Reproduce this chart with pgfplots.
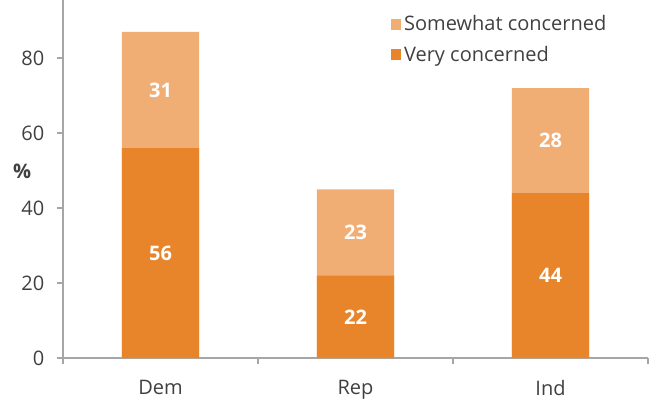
\documentclass[border=0pt]{standalone}
\usepackage{pgfplots}
\pgfplotsset{compat=1.18}
\usepackage{fontspec}
\setmainfont{Open Sans}
\definecolor{darkor}{HTML}{E8852A}
\definecolor{lightor}{HTML}{F1AE74}
\definecolor{axisgray}{HTML}{A6A6A6}
\definecolor{txt}{HTML}{404040}
\newcommand{\fs}{\fontsize{15}{18}\selectfont}
\begin{document}
\begin{tikzpicture}[x=1pt,y=1pt]
\begin{axis}[
  at={(0,0)}, anchor=south west,
  scale only axis,
  width=438.75pt, height=268.5pt,
  xmin=-0.5, xmax=2.5, ymin=0, ymax=95.5,
  axis x line*=bottom, axis y line*=left,
  axis line style={axisgray, line width=1.1pt, -},
  xtick={0,1,2}, xticklabels={Dem,Rep,Ind},
  minor xtick={-0.5,0.5,1.5,2.5},
  ytick={0,20,40,60,80},
  major x tick style={draw=none},
  minor x tick style={axisgray, line width=1.1pt},
  major y tick style={axisgray, line width=1.1pt},
  tick align=outside,
  major tick length=4.5pt, minor tick length=4.5pt,
  tick label style={font=\fs, text=txt},
  /pgf/number format/assume math mode=true,
  yticklabel style={xshift=-6pt},
  xticklabel style={yshift=-9pt},
  ylabel={\%},
  ylabel style={rotate=-90, font=\fs\bfseries, text=txt, at={(axis description cs:-0.070,0.52)}, anchor=center},
  legend style={draw=none, fill=none, at={(axis description cs:0.553,0.972)}, anchor=north west,
    font=\fs, text=txt, row sep=6pt,
    /tikz/every even column/.append style={column sep=2pt}},
  legend cell align=left,
  clip=false,
]
\addplot[ybar, bar width=0.395, bar shift=0pt, fill=lightor, draw=none,
  legend image code/.code={\fill[lightor] (0pt,-4pt) rectangle (8pt,4pt);}]
  coordinates {(0,87) (1,45) (2,72)};
\addlegendentry{Somewhat concerned}
\addplot[ybar, bar width=0.395, bar shift=0pt, fill=darkor, draw=none,
  legend image code/.code={\fill[darkor] (0pt,-4pt) rectangle (8pt,4pt);}]
  coordinates {(0,56) (1,22) (2,44)};
\addlegendentry{Very concerned}
\addplot[draw=none, mark=none, forget plot,
  nodes near coords, point meta=explicit symbolic,
  every node near coord/.append style={anchor=center, text=white, font=\fs\bfseries}]
  coordinates {(0,28)[56] (1,11)[22] (2,22)[44] (0,71.5)[31] (1,33.5)[23] (2,58)[28]};
\end{axis}
\pgfresetboundingbox
\path[use as bounding box] (-47.25pt,-31.5pt) rectangle (442.5pt,268.5pt);
\end{tikzpicture}
\end{document}
